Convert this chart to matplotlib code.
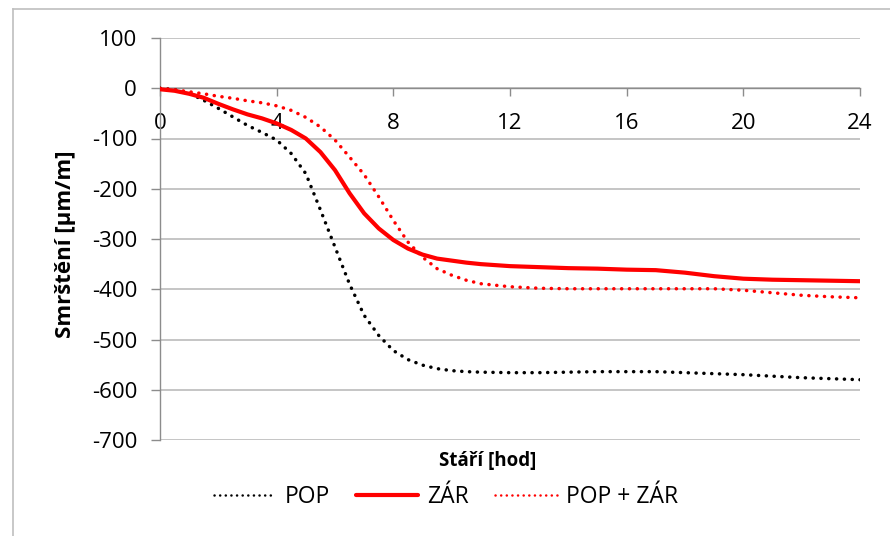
import matplotlib
matplotlib.use("Agg")
import matplotlib.pyplot as plt
from matplotlib.lines import Line2D

plt.rcParams['font.family'] = ['Open Sans', 'DejaVu Sans']

hours = [0, 0.5, 1, 1.5, 2, 2.5, 3, 3.5, 4, 4.5, 5, 5.5, 6, 6.5, 7, 7.5, 8, 8.5,
         9, 9.5, 10, 10.5, 11, 12, 13, 14, 15, 16, 17, 18, 19, 20, 21, 22, 23, 24]
pop = [0, -3, -10, -24, -40, -57, -74, -88, -103, -130, -170, -242, -316, -390,
       -452, -492, -522, -540, -551, -558, -562, -564, -565, -566, -566, -565,
       -564, -564, -564, -566, -568, -570, -573, -576, -578, -580]
zar = [-2, -5, -11, -19, -31, -42, -52, -60, -70, -83, -100, -127, -163, -209,
       -249, -279, -302, -319, -331, -339, -343, -347, -350, -354, -356, -358,
       -359, -361, -362, -367, -374, -379, -381, -382, -383, -384]
popzar = [0, -3, -7, -11, -16, -20, -25, -29, -35, -44, -58, -77, -103, -137,
          -172, -216, -263, -306, -336, -359, -372, -382, -389, -395, -398, -399,
          -399, -399, -399, -399, -399, -402, -407, -412, -415, -417]

series_names = ['POP', 'ZÁR', 'POP + ZÁR']
xticks = [0, 4, 8, 12, 16, 20, 24]
yticks = [100, 0, -100, -200, -300, -400, -500, -600, -700]

fig = plt.figure(figsize=(8.9, 5.36), dpi=100)
ax = fig.add_axes([160/890, 1-440/536, 700/890, 402/536])

grid_c = '#c0c0c0'
axis_c = '#8c8c8c'

dot = (0, (0.05, 2.2))
ax.plot(hours, pop, color='black', lw=2.5, linestyle=dot, dash_capstyle='round',
        label=series_names[0], zorder=3)
ax.plot(hours, zar, color='#ff0000', lw=3.0, solid_capstyle='round',
        label=series_names[1], zorder=4)
ax.plot(hours, popzar, color='#ff0000', lw=2.5, linestyle=dot, dash_capstyle='round',
        label=series_names[2], zorder=3)

ax.set_xlim(0, 24)
ax.set_ylim(-700, 100)
ax.set_xticks(xticks)
ax.set_yticks(yticks)
ax.set_xticklabels([str(v) for v in xticks])
ax.set_yticklabels([str(v) for v in yticks])

for s in ['top', 'right']:
    ax.spines[s].set_visible(False)
ax.spines['left'].set_color(axis_c)
ax.spines['left'].set_linewidth(1.0)
ax.spines['bottom'].set_position(('data', 0))
ax.spines['bottom'].set_color(axis_c)
ax.spines['bottom'].set_linewidth(1.0)

ax.yaxis.grid(True, color=grid_c, lw=1.3)
ax.set_axisbelow(True)

ax.tick_params(axis='x', direction='out', length=6, width=1.0, color=axis_c,
               labelsize=16, pad=12, labelcolor='black')
ax.tick_params(axis='y', direction='out', length=6.5, width=1.0, color=axis_c,
               labelsize=16, pad=10, labelcolor='black')

fig.text(65/890, 1-244/536, 'Smrštění [µm/m]', fontsize=16, fontweight='bold',
         rotation=90, ha='center', va='center')
fig.text(488/890, 1-461/536, 'Stáří [hod]', fontsize=13.5, fontweight='bold',
         ha='center', va='center')

leg = fig.legend(loc='center', bbox_to_anchor=(446/890, 1-497/536), ncol=3,
                 frameon=False, fontsize=16.5, handlelength=2.7, handletextpad=0.4,
                 columnspacing=1.15)
for h in leg.get_lines():
    if h.get_linestyle() != '-':
        h.set_linewidth(1.8)

# outer chart border
fig.add_artist(Line2D([13/890, 1], [1-9/536, 1-9/536], color='#bfbfbf', lw=1.2,
                      transform=fig.transFigure))
fig.add_artist(Line2D([13/890, 13/890], [0, 1-9/536], color='#bfbfbf', lw=1.2,
                      transform=fig.transFigure))

fig.savefig('out.png', dpi=100)
